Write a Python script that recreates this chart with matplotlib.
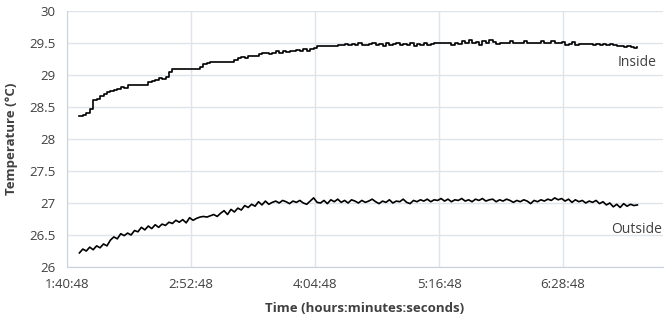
"""
Inside vs outside temperature log, Excel-style line chart.
"""
import numpy as np
import matplotlib
matplotlib.use("Agg")
import matplotlib.pyplot as plt
from matplotlib.ticker import FixedLocator, FuncFormatter

# logger settings (minutes after midnight)
start_min = 108
step_min = 2

inside = [
    28.36, 28.37, 28.40, 28.47, 28.61, 28.63, 28.67, 28.70, 28.73, 28.75,
    28.77, 28.78, 28.82, 28.80, 28.84, 28.85, 28.85, 28.85, 28.85, 28.85,
    28.89, 28.90, 28.92, 28.95, 28.94, 28.97, 29.05, 29.10, 29.10, 29.10,
    29.10, 29.10, 29.10, 29.10, 29.10, 29.13, 29.17, 29.19, 29.20, 29.20,
    29.20, 29.20, 29.20, 29.20, 29.20, 29.24, 29.26, 29.28, 29.27, 29.30,
    29.30, 29.30, 29.33, 29.35, 29.35, 29.33, 29.35, 29.37, 29.35, 29.38,
    29.36, 29.38, 29.37, 29.39, 29.37, 29.40, 29.38, 29.40, 29.42, 29.45,
    29.45, 29.45, 29.46, 29.45, 29.46, 29.47, 29.47, 29.48, 29.47, 29.48,
    29.47, 29.50, 29.47, 29.47, 29.48, 29.50, 29.47, 29.48, 29.46, 29.50,
    29.47, 29.48, 29.50, 29.47, 29.48, 29.47, 29.50, 29.46, 29.48, 29.47,
    29.50, 29.47, 29.48, 29.50, 29.50, 29.50, 29.50, 29.50, 29.47, 29.50,
    29.48, 29.53, 29.50, 29.54, 29.50, 29.52, 29.47, 29.53, 29.50, 29.54,
    29.52, 29.48, 29.50, 29.50, 29.50, 29.53, 29.50, 29.50, 29.50, 29.53,
    29.50, 29.50, 29.50, 29.50, 29.53, 29.50, 29.50, 29.53, 29.50, 29.50,
    29.52, 29.47, 29.48, 29.51, 29.47, 29.49, 29.48, 29.49, 29.48, 29.47,
    29.48, 29.47, 29.49, 29.47, 29.48, 29.47, 29.46, 29.45, 29.44, 29.45,
    29.44, 29.42, 29.44,
]

outside = [
    26.22, 26.28, 26.25, 26.31, 26.27, 26.33, 26.30, 26.36, 26.33, 26.42,
    26.47, 26.44, 26.52, 26.49, 26.53, 26.50, 26.57, 26.55, 26.62, 26.58,
    26.64, 26.60, 26.66, 26.62, 26.67, 26.65, 26.70, 26.68, 26.73, 26.70,
    26.74, 26.69, 26.77, 26.73, 26.76, 26.78, 26.79, 26.78, 26.80, 26.82,
    26.79, 26.84, 26.88, 26.82, 26.90, 26.86, 26.92, 26.89, 26.96, 26.93,
    26.98, 26.95, 27.02, 26.97, 27.03, 26.98, 27.01, 27.03, 27.00, 27.04,
    27.02, 26.99, 27.03, 27.01, 27.04, 27.00, 26.98, 27.03, 27.08, 27.01,
    27.00, 27.04, 26.99, 27.05, 27.02, 27.06, 27.01, 27.04, 27.00, 27.05,
    27.03, 27.00, 27.04, 27.01, 27.03, 27.06, 27.02, 26.99, 27.03, 27.01,
    27.05, 27.00, 27.03, 27.02, 27.06, 27.01, 26.99, 27.04, 27.02, 27.05,
    27.03, 27.06, 27.02, 27.05, 27.04, 27.07, 27.03, 27.06, 27.02, 27.05,
    27.04, 27.07, 27.03, 27.05, 27.02, 27.06, 27.04, 27.07, 27.03, 27.05,
    27.06, 27.02, 27.05, 27.03, 27.06, 27.04, 27.01, 27.04, 27.02, 27.05,
    27.03, 26.99, 27.04, 27.02, 27.05, 27.03, 27.06, 27.04, 27.08, 27.05,
    27.07, 27.03, 27.06, 27.01, 27.05, 27.02, 27.04, 27.00, 27.03, 27.01,
    27.04, 26.99, 27.02, 26.97, 27.00, 26.94, 26.98, 26.93, 26.99, 26.95,
    26.98, 26.96, 26.97,
]

# x ticks: 1:40:48 then every 72 minutes
first_tick_min = 100.8
tick_step_min = 72
y_ticks = [26, 26.5, 27, 27.5, 28, 28.5, 29, 29.5, 30]


def hms(m, pos=None):
    s = int(round(m * 60))
    return f"{s // 3600}:{(s % 3600) // 60:02d}:{s % 60:02d}"


plt.rcParams["font.family"] = ["Open Sans", "DejaVu Sans"]
text_c = "#404040"
grid_c = "#dfe3ea"

t = start_min + step_min * np.arange(len(inside))

fig = plt.figure(figsize=(6.69, 3.23), dpi=100)
ax = fig.add_axes([67 / 669, 56 / 323, 596 / 669, 256 / 323])

ax.plot(t, inside, color="black", lw=1.2, drawstyle="steps-post")
ax.plot(t, outside, color="black", lw=1.2)

x_ticks = [first_tick_min + tick_step_min * k for k in range(5)]
ax.set_xlim(first_tick_min, first_tick_min + tick_step_min * 596 / 124)
ax.set_ylim(26, 30)
ax.xaxis.set_major_locator(FixedLocator(x_ticks))
ax.xaxis.set_major_formatter(FuncFormatter(hms))
ax.set_yticks(y_ticks)
ax.set_yticklabels([f"{v:g}" for v in y_ticks])

ax.grid(True, color=grid_c, lw=1)
ax.set_axisbelow(True)
for side in ["top", "right"]:
    ax.spines[side].set_visible(False)
for side in ["left", "bottom"]:
    ax.spines[side].set_color("#c9d3e0")
ax.tick_params(length=0, labelsize=9.5, labelcolor=text_c, pad=8)

ax.set_xlabel("Time (hours:minutes:seconds)", fontsize=9.5, fontweight="bold",
              color=text_c, labelpad=8)
ax.set_ylabel("Temperature (°C)", fontsize=9.5, fontweight="bold",
              color=text_c, labelpad=8)

ax.text(420.5, 29.19, "Inside", fontsize=10, color=text_c,
        ha="left", va="center")
ax.text(416.5, 26.58, "Outside", fontsize=10, color=text_c,
        ha="left", va="center")

fig.savefig("out.png", dpi=100)
